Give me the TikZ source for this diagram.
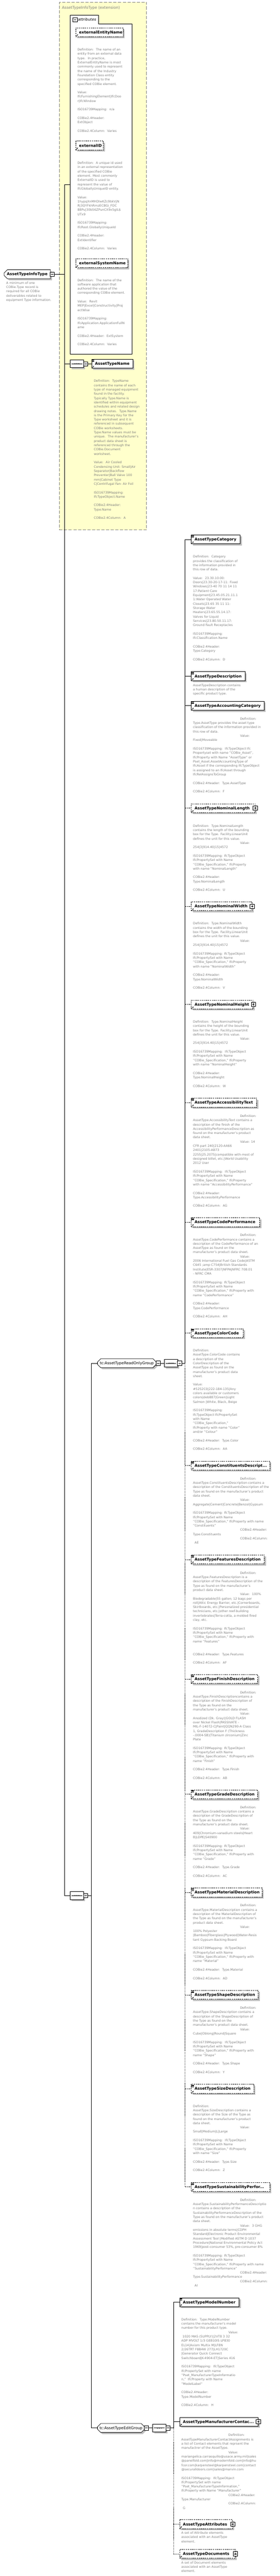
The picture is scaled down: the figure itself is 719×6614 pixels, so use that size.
\documentclass[tikz,border=0pt]{standalone}
\usepackage{fontspec}
\setmainfont{DejaVu Sans}
\usetikzlibrary{shapes.misc,shadows,arrows.meta}
\definecolor{descgray}{RGB}{128,128,128}
\definecolor{yfill}{RGB}{255,255,204}
\definecolor{shgray}{RGB}{192,192,192}
\definecolor{ydash}{RGB}{128,128,128}
\newcommand\dfont{\fontsize{8}{11}\selectfont}
\newcommand\efont{\fontsize{9.9}{12}\selectfont\bfseries}
\newcommand\gfont{\fontsize{9.8}{12}\selectfont}
\newcommand\dind{\hspace*{121pt}}
\newcommand\blk{\mbox{}}
\tikzset{
 shd/.style={general shadow={fill=shgray, shadow xshift=4pt, shadow yshift=-4pt}},
 ebox/.style={draw=black, fill=white, line width=1pt, minimum height=23pt, inner sep=0pt, anchor=west, shd},
 eboxd/.style={ebox, dash pattern=on 3pt off 2pt},
 elabel/.style={anchor=west, inner sep=0pt, font=\efont, text height=7pt, text depth=0pt},
 desc/.style={anchor=north west, inner sep=0pt, align=left, font=\dfont, text=descgray, execute at begin node={\rule{0pt}{7.7pt}}},
 pmbox/.style={draw=black, fill=white, line width=1pt, minimum size=11pt, inner sep=0pt},
 refarrow/.style={line width=0.8pt, -{Stealth[length=3pt,width=3pt]}},
 seqn/.style={chamfered rectangle, chamfered rectangle xsep=4pt, chamfered rectangle ysep=6pt, draw=black, fill=white, line width=1pt, minimum width=34pt, minimum height=20pt, inner sep=0pt, anchor=west, shd},
 grpn/.style={chamfered rectangle, chamfered rectangle xsep=5pt, chamfered rectangle ysep=5pt, draw=black, fill=white, line width=1pt, minimum height=23pt, inner sep=0pt, anchor=west, font=\gfont, text height=7pt, text depth=0pt, shd},
 rootn/.style={grpn, chamfered rectangle corners={north west,south west}, font=\efont},
 conn/.style={line width=1pt},
 connd/.style={line width=1pt, dash pattern=on 3pt off 2pt},
 bus/.style={line width=1pt},
 busd/.style={line width=1pt, dash pattern=on 2pt off 2pt},
}
\newcommand\eqicon[1]{%
  \foreach \k in {2,4,6}{\draw[line width=0.7pt] ([xshift=1.5,yshift=-\k]#1.north west) -- ++(6,0);}}
\newcommand\plusbox[2]{%
  \node[pmbox] (#1) at (#2) {};
  \draw[line width=0.9pt] ([xshift=-3]#1.center) -- ([xshift=3]#1.center) ([yshift=-3]#1.center) -- ([yshift=3]#1.center);}
\newcommand\minusbox[2]{%
  \node[pmbox] (#1) at (#2) {};
  \draw[line width=0.9pt] ([xshift=-3]#1.center) -- ([xshift=3]#1.center);}
\newcommand\seqsym[1]{%
  \draw[line width=0.8pt] ([xshift=4]#1.west) -- ([xshift=-4]#1.east);
  \foreach \k in {-5,0,5}{\fill ([xshift=\k]#1.center) circle[radius=1.4];}}
\newcommand\elm[7]{%
  \node[#5, minimum width={#4-#2}] (#1) at (#2,#3) {};
  \node[elabel] (#1-l) at ([xshift=9]#1.west) {#6};
  \draw[refarrow] ([xshift=2,yshift=2]#1.south west) -- ++(4.5,-4.5);
  \ifx e#7\eqicon{#1}\fi
  \ifx p#7\plusbox{#1-p}{#1.east}\fi
}
\begin{document}
\begin{tikzpicture}[x=1pt,y=-1pt]
\useasboundingbox (0,0) rectangle (719,6614);
% ---------------- yellow extension box
\node[draw=ydash, dash pattern=on 8pt off 4pt, line width=1pt, fill=yfill, anchor=north west, minimum width=224pt, minimum height=1355pt, inner sep=0pt] (ybox) at (152,5) {};
\node[anchor=west, inner sep=0pt, font=\gfont, text=descgray, text height=7pt, text depth=0pt] (ytitle) at (159,19) {AssetTypeInfoType (extension)};
% attributes
\node[draw, line width=1pt, fill=white, anchor=north west, minimum width=159pt, minimum height=848pt, inner sep=0pt] (attr) at (180,61) {};
\node[draw, line width=1pt, fill=white, anchor=south west, minimum width=73pt, minimum height=22pt, inner sep=0pt] (tab) at (180,61) {};
\draw[white, line width=2pt] ([xshift=1.5]tab.south west) -- ([xshift=-1.5]tab.south east);
\minusbox{tabm}{193,50.5}
\node[anchor=west, inner sep=0pt, font=\fontsize{9.6}{12}\selectfont\itshape, text height=7pt, text depth=0pt] (tabl) at (200,50.5) {attributes};
\elm{xen}{194}{83}{316}{eboxd}{externalEntityName}{n}
\node[desc] (xen-d) at (199,124) {Definition:~ The name of an\\
entity from an external data\\
type.~ In practice,\\
ExternalEntityName is most\\
commonly used to represent\\
the name of the Industry\\
Foundation Class entity\\
corresponding to the\\
specified COBie element.\\
\blk\\
Value:\\
IfcFurnishingElement|IfcDoo\\
r|IfcWindow\\
\blk\\
ISO16739Mapping:~ n/a\\
\blk\\
COBie2.4Header:\\
ExtObject\\
\blk\\
COBie2.4Column:~ Varies};
\elm{xid}{194}{373.5}{265}{eboxd}{externalID}{n}
\node[desc] (xid-d) at (199,415) {Definition:~ A unique id used\\
in an external representation\\
of the specified COBie\\
element. Most commonly\\
ExternalID is used to\\
represent the value of\\
IfcGloballyUniqueID entity.\\
\blk\\
Value:\\
1hypqXnMHDlwKZc9bkVjN\\
R|3QYFkhRmzECBGi\_FDC\\
88Pu|30b56ZPunCX9x5gIL\$\\
UTx9\\
\blk\\
ISO16739Mapping:\\
IfcRoot.GloballyUniqueId\\
\blk\\
COBie2.4Header:\\
ExtIdentifier\\
\blk\\
COBie2.4Column:~ Varies};
\elm{xsn}{194}{676}{328}{eboxd}{externalSystemName}{n}
\node[desc] (xsn-d) at (199,716) {Definition:~ The name of the\\
software application that\\
authored the value of the\\
corresponding COBie element.\\
\blk\\
Value:~ Revit\\
MEP|Excel|Constructivity|Proj\\
ectWise\\
\blk\\
ISO16739Mapping:\\
IfcApplication.ApplicationFullN\\
ame\\
\blk\\
COBie2.4Header:~ ExtSystem\\
\blk\\
COBie2.4Column:~ Varies};
% base sequence
\node[seqn] (seq1) at (180,934) {}; \seqsym{seq1}
\minusbox{seq1m}{220,934}
\elm{atn}{235}{934}{341}{ebox}{AssetTypeName}{e}
\node[desc] (atn-d) at (241,975) {Definition:~ TypeName\\
contains the name of each\\
type of managed equipment\\
found in the facility.\\
Typically Type.Name is\\
identified within equipment\\
schedules and related design\\
drawing notes.~ Type.Name\\
is the Primary Key for the\\
Type worksheet and it is\\
referenced in subsequent\\
COBie worksheets.\\
Type.Name values must be\\
unique.~ The manufacturer's\\
product data sheet is\\
referenced through the\\
COBie.Document\\
worksheet.\\
\blk\\
Value:~ Air Cooled\\
Condensing Unit- Small|Air\\
Separator|Backflow\\
Preventer|Ball Valve 100\\
mm|Cabinet Type\\
C|Centrifugal Fan- Air Foil\\
\blk\\
ISO16739Mapping:\\
IfcTypeObject.Name\\
\blk\\
COBie2.4Header:\\
Type.Name\\
\blk\\
COBie2.4Column:~ A};
% ---------------- root
\node[rootn, minimum width=119pt] (root) at (10,704) {AssetTypeInfoType};
\minusbox{rootm}{134,704}
\node[desc] (root-d) at (16,723) {A minimum of one\\
COBie.Type record is\\
required for all COBie\\
deliverables related to\\
equipment Type information.};
% bus 1
\coordinate (b1t) at (166,474);
\coordinate (b1b) at (166,4867);
\draw[bus] (b1t) -- (b1b);
\draw[conn] (b1t) -- (b1t -| attr.west);
\draw[conn] (rootm.east) -- (rootm.east -| b1t);
\draw[conn] (seq1.west -| b1t) -- (seq1.west);
\draw[conn] (seq1m.east) -- (atn.west);
% extension sequence
\node[seqn] (seq2) at (180,4867) {}; \seqsym{seq2}
\minusbox{seq2m}{220,4867}
\draw[conn] (b1b) -- (seq2.west);
\coordinate (b2t) at (235,3500);
\coordinate (b2b) at (235,6234);
\draw[bus] (b2t) -- (b2b);
\draw[conn] (seq2m.east) -- (seq2m.east -| b2t);
% ---------------- read only group
\node[grpn, minimum width=151pt] (rog) at (250,3500) {tc:AssetTypeReadOnlyGroup};
\minusbox{rogm}{406.5,3500}
\node[seqn] (seq3) at (422,3500) {}; \seqsym{seq3}
\minusbox{seq3m}{461.5,3500}
\draw[conn] (b2t) -- (rog.west);
\draw[conn] (rogm.east) -- (seq3.west);
\coordinate (b3t) at (476,1385);
\coordinate (b3m) at (476,3500);
\coordinate (b3b) at (476,5615);
\draw[bus] (b3t) -- (b3m);
\draw[busd] (b3m) -- (b3b);
\draw[conn] (seq3m.east) -- (b3m);

\elm{cat}{491}{1385}{617}{ebox}{AssetTypeCategory}{e}
\draw[conn] (b3t) -- (cat.west);
\node[desc] (cat-d) at (496,1426) {Definition:~ Category\\
provides the classification of\\
the information provided in\\
this row of data.\\
\blk\\
Value:~ 23.30.10.00:\\
Doors|23.30-20-17-11: Fixed\\
Windows|23-40 70 11 14 11\\
17:Patient Care\\
Equipment|23.45.05.21.11.1\\
1:Water Operated Water\\
Closets|23.65 35 11 11:\\
Storage Water\\
Heaters|23.65.55.14.17:\\
Valves for Liquid\\
Services|23.80.50.11.17:\\
Ground Fault Receptacles\\
\blk\\
ISO16739Mapping:\\
IfcClassification.Name\\
\blk\\
COBie2.4Header:\\
Type.Category\\
\blk\\
COBie2.4Column:~ D};

\elm{des}{491}{1736}{629}{ebox}{AssetTypeDescription}{e}
\draw[conn] (des.west -| b3t) -- (des.west);
\node[desc] (des-d) at (496,1756) {AssetTypeDescription contains\\
a human description of the\\
specific product type.};

\elm{acc}{491}{1812}{678}{ebox}{AssetTypeAccountingCategory}{e}
\draw[conn] (acc.west -| b3t) -- (acc.west);
\node[desc] (acc-d) at (496,1842) {\dind Definition:\\
Type.AssetType provides the asset type\\
classification of the information provided in\\
this row of data.\\
\dind Value:\\
Fixed|Moveable\\
\blk\\
ISO16739Mapping:~ IfcTypeObject Ifc\\
Propertyset with name "COBie\_Asset",\\
IfcProperty with Name "AssetType" or\\
Pset\_Asset.AssetAccountingType of\\
IfcAsset if the corresponding IfcTypeObject\\
is assigned to an IfcAsset through\\
IfcRelAssignsToGroup\\
\blk\\
COBie2.4Header:~ Type.AssetType\\
\blk\\
COBie2.4Column:~ F};

\elm{nl}{491}{2075}{655}{eboxd}{AssetTypeNominalLength}{p}
\draw[connd] (nl.west -| b3t) -- (nl.west);
\node[desc] (nl-d) at (496,2117) {Definition:~ Type.NominalLength\\
contains the length of the bounding\\
box for the Type. Facility.LinearUnit\\
defines the unit for this value.\\
\dind Value:\\
254|3|914.40|15|4572\\
\blk\\
ISO16739Mapping: IfcTypeObject\\
IfcPropertySet with Name\\
"COBie\_Specification," IfcProperty\\
with name "NominalLength"\\
\blk\\
COBie2.4Header:\\
Type.NominalLength\\
\blk\\
COBie2.4Column:~ U};

\elm{nw}{491}{2327}{647}{eboxd}{AssetTypeNominalWidth}{p}
\draw[connd] (nw.west -| b3t) -- (nw.west);
\node[desc] (nw-d) at (496,2368) {Definition:~ Type.NominalWidth\\
contains the width of the bounding\\
box for the Type. Facility.LinearUnit\\
defines the unit for this value.\\
\dind Value:\\
254|3|914.40|15|4572\\
\blk\\
ISO16739Mapping: IfcTypeObject\\
IfcPropertySet with Name\\
"COBie\_Specification," IfcProperty\\
with name "NominalWidth"\\
\blk\\
COBie2.4Header:\\
Type.NominalWidth\\
\blk\\
COBie2.4Column:~ V};

\elm{nh}{491}{2579}{650}{eboxd}{AssetTypeNominalHeight}{p}
\draw[connd] (nh.west -| b3t) -- (nh.west);
\node[desc] (nh-d) at (496,2620) {Definition:~ Type.NominalHeight\\
contains the height of the bounding\\
box for the Type. Facility.LinearUnit\\
defines the unit for this value.\\
\dind Value:\\
254|3|914.40|15|4572\\
\blk\\
ISO16739Mapping:~ IfcTypeObject\\
IfcPropertySet with Name\\
"COBie\_Specification," IfcProperty\\
with name "NominalHeight"\\
\blk\\
COBie2.4Header:\\
Type.NominalHeight\\
\blk\\
COBie2.4Column:~ W};

\elm{acx}{491}{2831}{659}{eboxd}{AssetTypeAccessibilityText}{e}
\draw[connd] (acx.west -| b3t) -- (acx.west);
\node[desc] (acx-d) at (496,2862) {\dind Definition:\\
AssetType.AccessibilityText contains a\\
description of the finish of the\\
AccessibilityPerformanceDescription as\\
found on the manufacturer's product\\
data sheet.\\
\dind Value: 14\\
CFR part 240|2120-AA66\\
2401|2105-AB73\\
2255|25.2075|compatible with most of\\
designed billet, etc.|World Usability\\
2012 User\\
\blk\\
ISO16739Mapping:~ IfcTypeObject\\
IfcPropertySet with Name\\
"COBie\_Specification," IfcProperty\\
with name "AccessibilityPerformance"\\
\blk\\
COBie2.4Header:\\
Type.AccessibilityPerformance\\
\blk\\
COBie2.4Column:~ AG};

\elm{cp}{491}{3138}{667}{eboxd}{AssetTypeCodePerformance}{e}
\draw[connd] (cp.west -| b3t) -- (cp.west);
\node[desc] (cp-d) at (496,3168) {\dind Definition:\\
AssetType.CodePerformance contains a\\
description of the CodePerformance of an\\
AssetType as found on the\\
manufacturer's product data sheet.\\
\dind Value:\\
2006 International Fuel Gas Code|ASTM\\
C645 ;amp C754|British Standards\\
Institute|ESR-3307|NFPA|NFRC 708.01\\
- NFRC CMA\\
\blk\\
ISO16739Mapping: IfcTypeObject\\
IfcPropertySet with Name\\
"COBie\_Specification," IfcProperty with\\
name "CodePerformance"\\
\blk\\
COBie2.4Header:\\
Type.CodePerformance\\
\blk\\
COBie2.4Column:~ AH};

\elm{cc}{491}{3423}{625}{eboxd}{AssetTypeColorCode}{e}
\draw[connd] (cc.west -| b3t) -- (cc.west);
\node[desc] (cc-d) at (496,3464) {Definition:\\
AssetType.ColorCode contains\\
a description of the\\
ColorDescription of the\\
AssetType as found on the\\
manufacturer's product data\\
sheet.\\
\blk\\
Value:\\
\#5252C0|222-184-135|Any\\
colors available or customers\\
colors|deb887|Green|Light\\
Salmon |White, Black, Beige\\
\blk\\
ISO16739Mapping:\\
IfcTypeObject IfcPropertySet\\
with Name\\
"COBie\_Specification,"\\
IfcProperty with name "Color"\\
and/or "Colour"\\
\blk\\
COBie2.4Header:~ Type.Color\\
\blk\\
COBie2.4Column:~ AA};

\elm{con}{491}{3763}{693}{eboxd}{AssetTypeConstituentsDescript...}{e}
\draw[connd] (con.west -| b3t) -- (con.west);
\node[desc] (con-d) at (496,3793) {\dind Definition:\\
AssetType.ConstituentsDescription contains a\\
description of the ConstituentsDescription of the\\
Type as found on the manufacturer's product\\
data sheet.\\
\dind Value:\\
Aggregate|Cement|Concrete|Benzol|Gypsum\\
\blk\\
ISO16739Mapping: IfcTypeObject\\
IfcPropertySet with Name\\
"COBie\_Specification," IfcProperty with name\\
"Constituents"\\
\dind COBie2.4Header:\\
Type.Constituents\\
\dind COBie2.4Column:\\
\hspace*{4pt}AE};

\elm{fea}{491}{4004}{679}{eboxd}{AssetTypeFeaturesDescription}{e}
\draw[connd] (fea.west -| b3t) -- (fea.west);
\node[desc] (fea-d) at (496,4035) {\dind Definition:\\
AssetType.FeaturesDescription is a\\
description of the FeaturesDescription of the\\
Type as found on the manufacturer's\\
product data sheet.\\
\dind Value:~ 100\%\\
Biodegradable|55 gallon; 12 bags per\\
roll|Attic Energy Barrier, etc.|Cornerboards,\\
Skirtboards, etc.|Personalized presidential\\
technicians, etc.|other reef-building\\
invertebrates|Terra-cotta, a molded fired\\
clay, etc.\\
\blk\\
ISO16739Mapping: IfcTypeObject\\
IfcPropertySet with Name\\
"COBie\_Specification," IfcProperty with\\
name "Features"\\
\blk\\
\blk\\
COBie2.4Header:~ Type.Features\\
\blk\\
COBie2.4Column:~ AF};

\elm{fin}{491}{4311}{662}{eboxd}{AssetTypeFinishDescription}{e}
\draw[connd] (fin.west -| b3t) -- (fin.west);
\node[desc] (fin-d) at (496,4342) {\dind Definition:\\
AssetType.FinishDescriptioncontains a\\
description of the FinishDescription of\\
the Type as found on the\\
manufacturer's product data sheet.\\
\dind Value:\\
Anodized (Dk. Gray)|GOLD FLASH\\
over Nickel Flash|PASSIVATE -\\
MIL-F-14072-C|Paint|QQN290-A Class\\
1, GradeDescription F (Thickness\\
-.0004-SB)|Titanium zirconium|Zinc\\
Plate\\
\blk\\
ISO16739Mapping: IfcTypeObject\\
IfcPropertySet with Name\\
"COBie\_Specification," IfcProperty with\\
name "Finish"\\
\blk\\
COBie2.4Header:~ Type.Finish\\
\blk\\
COBie2.4Column:~ AB};

\elm{gra}{491}{4607}{662}{eboxd}{AssetTypeGradeDescription}{e}
\draw[connd] (gra.west -| b3t) -- (gra.west);
\node[desc] (gra-d) at (496,4637) {\dind Definition:\\
AssetType.GradeDescription contains a\\
description of the GradeDescription of\\
the Type as found on the\\
manufacturer's product data sheet.\\
\dind Value:\\
409|Chromium-vanadium steels|Heart\\
B|LDPE|S40900\\
\blk\\
ISO16739Mapping: IfcTypeObject\\
IfcPropertySet with Name\\
"COBie\_Specification," IfcProperty with\\
name "Grade"\\
\blk\\
COBie2.4Header:~ Type.Grade\\
\blk\\
COBie2.4Column:~ AC};

\elm{mat}{491}{4859}{673}{eboxd}{AssetTypeMaterialDescription}{e}
\draw[connd] (mat.west -| b3t) -- (mat.west);
\node[desc] (mat-d) at (496,4889) {\dind Definition:\\
AssetType.MaterialDescription contains a\\
description of the MaterialDescription of\\
the Type as found on the manufacturer's\\
product data sheet.\\
\dind Value:\\
100\% Polyester\\
|Bamboo|Fiberglass|Plywood|Water-Resis\\
tant Gypsum Backing Board\\
\blk\\
ISO16739Mapping:~ IfcTypeObject\\
IfcPropertySet with Name\\
"COBie\_Specification," IfcProperty with\\
name "Material"\\
\blk\\
COBie2.4Header:~ Type.Material\\
\blk\\
COBie2.4Column:~ AD};

\elm{sha}{491}{5122}{663}{eboxd}{AssetTypeShapeDescription}{e}
\draw[connd] (sha.west -| b3t) -- (sha.west);
\node[desc] (sha-d) at (496,5152) {\dind Definition:\\
AssetType.ShapeDescription contains a\\
description of the ShapeDescription of\\
the Type as found on the\\
manufacturer's product data sheet.\\
\dind Value:\\
Cube|Oblong|Round|Square\\
\blk\\
ISO16739Mapping:~ IfcTypeObject\\
IfcPropertySet with Name\\
"COBie\_Specification," IfcProperty with\\
name "Shape"\\
\blk\\
COBie2.4Header:~ Type.Shape\\
\blk\\
COBie2.4Column:~ Y};

\elm{siz}{491}{5363}{652}{eboxd}{AssetTypeSizeDescription}{e}
\draw[connd] (siz.west -| b3t) -- (siz.west);
\node[desc] (siz-d) at (496,5404) {Definition:\\
AssetType.SizeDescription contains a\\
description of the Size of the Type as\\
found on the manufacturer's product\\
data sheet.\\
\dind Value:\\
Small|Medium|L|Large\\
\blk\\
ISO16739Mapping:~ IfcTypeObject\\
IfcPropertySet with Name\\
"COBie\_Specification," IfcProperty\\
with name "Size"\\
\blk\\
COBie2.4Header:~ Type.Size\\
\blk\\
COBie2.4Column:~ Z};

\elm{sus}{491}{5615}{693}{eboxd}{AssetTypeSustainabilityPerfor...}{e}
\draw[connd] (b3b) -- (sus.west);
\node[desc] (sus-d) at (496,5645) {\dind Definition:\\
AssetType.SustainabilityPerformanceDescriptio\\
n contains a description of the\\
SustainabilityPerformanceDescription of the\\
Type as found on the manufacturer's product\\
data sheet.\\
\dind Value:~ 3 GHG\\
emissions in absolute terms|CDPH\\
Standard|Electronic Product Environmental\\
Assessment Tool |Modified ASTM D 1037\\
Procedure|National Environmental Policy Act\\
1969|post-consumer 53\%, pre-consumer 8\%\\
\blk\\
ISO16739Mapping: IfcTypeObject\\
IfcPropertySet with Name\\
"COBie\_Specification," IfcProperty with name\\
"SustainabilityPerformance"\\
\dind COBie2.4Header:\\
Type.SustainabilityPerformance\\
\dind COBie2.4Column:\\
\hspace*{4pt}AI};

% ---------------- edit group
\node[grpn, minimum width=121pt] (edg) at (250,6234) {tc:AssetTypeEditGroup};
\minusbox{edgm}{376,6234}
\node[seqn] (seq4) at (392,6234) {}; \seqsym{seq4}
\minusbox{seq4m}{432,6234}
\draw[conn] (b2b) -- (edg.west);
\draw[conn] (edgm.east) -- (seq4.west);
\coordinate (b4t) at (446,5911);
\coordinate (b4m) at (446,6234);
\coordinate (b4b) at (446,6557);
\draw[bus] (b4t) -- (b4m);
\draw[busd] (b4m) -- (b4b);
\draw[conn] (seq4m.east) -- (b4m);

\elm{mod}{461}{5911}{614}{ebox}{AssetTypeModelNumber}{e}
\draw[conn] (b4t) -- (mod.west);
\node[desc] (mod-d) at (466,5952) {Definition:~ Type.ModelNumber\\
contains the manufacturer's model\\
number for this product type.\\
\dind Value:\\
\hspace*{3pt}1020 MAS (SUPPLY)|2VT8 3 32\\
ADP MVOLT 1/3 GEB10IS LP830\\
EL14|Axiom Multix M|LF8N\\
2/26TRT F8B4W 277|LH1720C\\
|Generator Quick Connect\\
Switchboard|K-4904-ET|Series 416\\
\blk\\
ISO16739Mapping:~ IfcTypeObject\\
IfcPropertySet with name\\
"Pset\_ManufacturerTypeInformatio\\
n,"~ IfcProperty with Name\\
"ModelLabel"\\
\blk\\
COBie2.4Header:\\
Type.ModelNumber\\
\blk\\
COBie2.4Column:~ H};

\elm{man}{461}{6218}{663}{ebox}{AssetTypeManufacturerContac...}{p}
\draw[conn] (man.west -| b4t) -- (man.west);
\node[desc] (man-d) at (466,6249) {\dind Definition:\\
AssetTypeManufacturerContactAssignments is\\
a list of Contact elements that reprsent the\\
manufactrer of the AssetType.\\
\dind Value:\\
mariangelica.carrasquillo@usace.army.mil|sales\\
@panelfold.com|info@modernfold.com|info@hu\\
fcor.com|karpensteel@karpensteel.com|contact\\
@securalldoors.com|sales@marvin.com\\
\blk\\
ISO16739Mapping:~ IfcTypeObject\\
IfcPropertySet with name\\
"Pset\_ManufacturerTypeInformation,"\\
IfcProperty with Name "Manufacturer"\\
\dind COBie2.4Header:\\
Type.Manufacturer\\
\dind COBie2.4Column:\\
\hspace*{4pt}G};

\elm{att}{461}{6481}{597}{eboxd}{AssetTypeAttributes}{p}
\draw[connd] (att.west -| b4t) -- (att.west);
\node[desc] (att-d) at (466,6500) {A set of Attribute elements\\
associated with an AssetType\\
element.};

\elm{doc}{461}{6557}{604}{eboxd}{AssetTypeDocuments}{p}
\draw[connd] (b4b) -- (doc.west);
\node[desc] (doc-d) at (466,6576) {A set of Document elements\\
associated with an AssetType\\
element.};
\end{tikzpicture}
\end{document}
